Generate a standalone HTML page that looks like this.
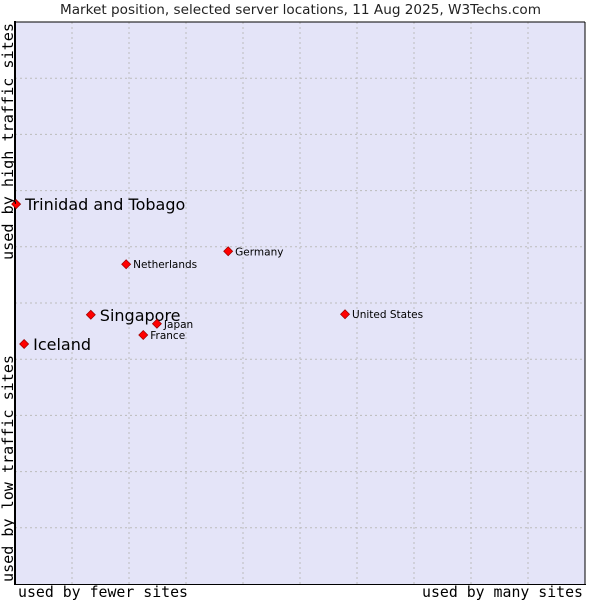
<!DOCTYPE html>
<html><head><meta charset="utf-8"><style>
body{margin:0;background:#fff;width:600px;height:600px;overflow:hidden}
</style></head><body>
<svg width="600" height="600" xmlns="http://www.w3.org/2000/svg">
<text x="60" y="14" textLength="481" lengthAdjust="spacingAndGlyphs" font-family="DejaVu Sans, sans-serif" font-size="13" fill="#222">Market position, selected server locations, 11 Aug 2025, W3Techs.com</text>
<rect x="15" y="22" width="570" height="562" fill="#e4e4f8"/>
<g id="grid"></g>
<line x1="15" y1="21" x2="15" y2="585" stroke="#000" stroke-width="2"/>
<line x1="15" y1="22" x2="585" y2="22" stroke="#000" stroke-width="1"/>
<line x1="585" y1="22" x2="585" y2="584" stroke="#000" stroke-width="1"/>
<line x1="14" y1="584.5" x2="586" y2="584.5" stroke="#000" stroke-width="1"/>
<g id="points"></g>
<text x="18" y="597" textLength="170" lengthAdjust="spacingAndGlyphs" font-family="DejaVu Sans Mono, monospace" font-size="15" fill="#000">used by fewer sites</text>
<text x="422" y="597" textLength="161" lengthAdjust="spacingAndGlyphs" font-family="DejaVu Sans Mono, monospace" font-size="15" fill="#000">used by many sites</text>
<text transform="translate(13,582) rotate(-90)" textLength="227" lengthAdjust="spacingAndGlyphs" font-family="DejaVu Sans Mono, monospace" font-size="15" fill="#000">used by low traffic sites</text>
<text transform="translate(13,260) rotate(-90)" textLength="237" lengthAdjust="spacingAndGlyphs" font-family="DejaVu Sans Mono, monospace" font-size="15" fill="#000">used by high traffic sites</text>
</svg>
<script>
const names=["Trinidad and Tobago","Iceland","Singapore","Netherlands","Japan","France","Germany","United States"];
const xVals=[0.2,1.6,13.3,19.5,24.9,22.5,37.4,57.9];
const yVals=[67.6,42.7,47.9,56.9,46.3,44.3,59.2,48.0];
const bigLabel=[true,true,true,false,false,false,false,false];
const ns="http://www.w3.org/2000/svg";
const X=v=>15+v*5.7, Y=v=>584-v*5.62;
const grid=document.getElementById('grid');
for(let i=1;i<10;i++){
 const l=document.createElementNS(ns,'line');
 l.setAttribute('x1',X(i*10));l.setAttribute('x2',X(i*10));l.setAttribute('y1',22);l.setAttribute('y2',584);
 l.setAttribute('stroke','#bbb');l.setAttribute('stroke-dasharray','2,3');
 
 
 grid.appendChild(l);
 const h=document.createElementNS(ns,'line');
 h.setAttribute('y1',Y(i*10));h.setAttribute('y2',Y(i*10));h.setAttribute('x1',15);h.setAttribute('x2',585);
 h.setAttribute('stroke','#bbb');h.setAttribute('stroke-dasharray','2,3');
 
 
 grid.appendChild(h);
}
const pts=document.getElementById('points');
names.forEach((n,i)=>{
 const cx=X(xVals[i]),cy=Y(yVals[i]);
 const d=document.createElementNS(ns,'path');
 d.setAttribute('d',`M${cx},${cy-4.5}L${cx+4.5},${cy}L${cx},${cy+4.5}L${cx-4.5},${cy}Z`);
 d.setAttribute('fill','#f00');d.setAttribute('stroke','#900');d.setAttribute('stroke-width','0.7');
 
 
 pts.appendChild(d);
 const t=document.createElementNS(ns,'text');
 t.setAttribute('x',cx+(bigLabel[i]?9:7));
 t.setAttribute('y',cy+(bigLabel[i]?6:4));
 t.setAttribute('font-family','DejaVu Sans, sans-serif');
 t.setAttribute('font-size',bigLabel[i]?'16':'10.5');
 t.setAttribute('fill','#000');
 t.textContent=n;
 
 
 pts.appendChild(t);
});
</script>
</body></html>
